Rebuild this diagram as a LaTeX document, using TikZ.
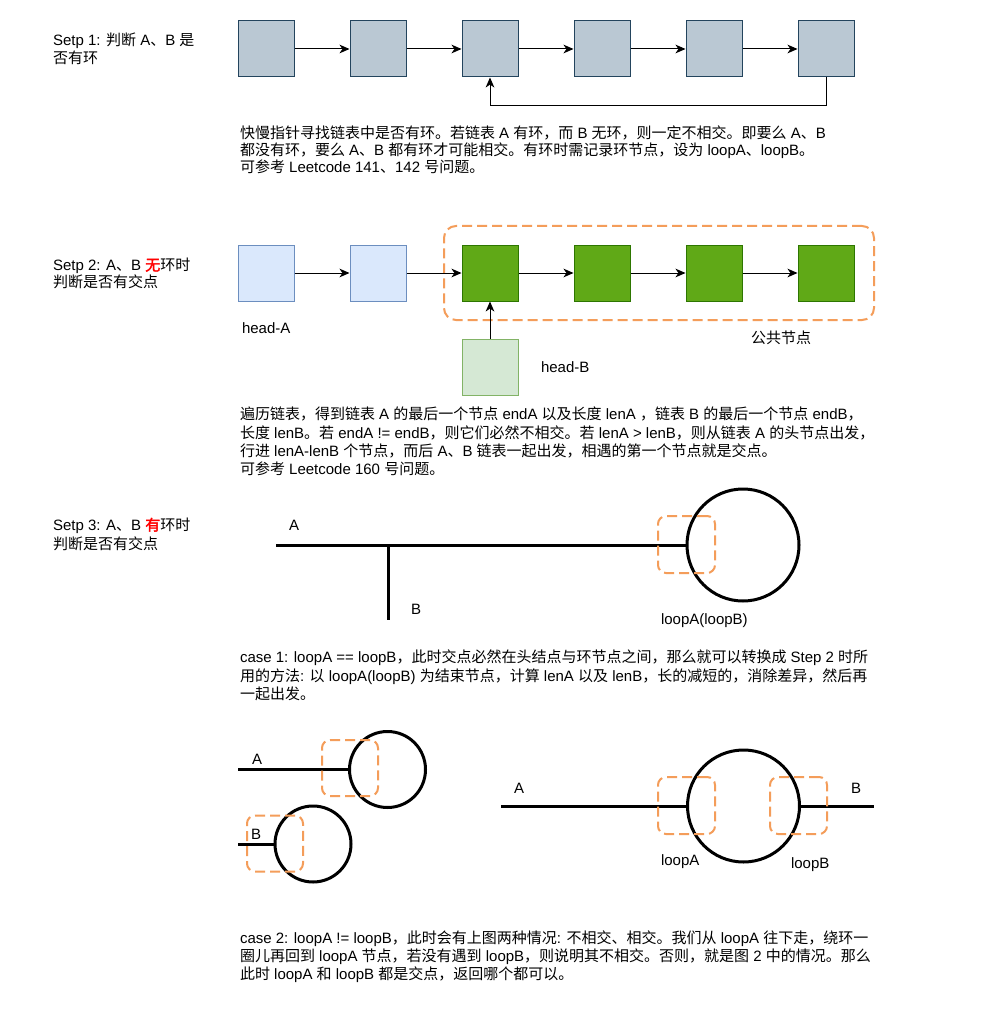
\documentclass[tikz,border=0pt]{standalone}
\usepackage{fontspec}
\setmainfont{Liberation Sans}
\newfontfamily\zhfont{Noto Sans CJK SC}
\newfontfamily\zhboldfont{Noto Sans CJK SC}[FakeBold=2.5]
\newcommand\zh[1]{{\zhfont #1}}
\newcommand\zhb[1]{{\zhboldfont #1}}
\usetikzlibrary{arrows.meta}
\definecolor{grayF}{HTML}{BAC8D3}
\definecolor{grayS}{HTML}{23445D}
\definecolor{blueF}{HTML}{DAE8FC}
\definecolor{blueS}{HTML}{6C8EBF}
\definecolor{greenF}{HTML}{60A917}
\definecolor{greenS}{HTML}{2D7600}
\definecolor{lgreenF}{HTML}{D5E8D4}
\definecolor{lgreenS}{HTML}{82B366}
\definecolor{orangeD}{RGB}{244,157,90}
\tikzset{
  txt/.style={anchor=base west, inner sep=0pt, outer sep=0pt},
  sq/.style={minimum size=42pt, inner sep=0pt, line width=0.75pt},
  graybox/.style={sq, draw=grayS, fill=grayF},
  bluebox/.style={sq, draw=blueS, fill=blueF},
  greenbox/.style={sq, draw=greenS, fill=greenF},
  lgreenbox/.style={sq, draw=lgreenS, fill=lgreenF},
  arr/.style={line width=0.75pt, -{Stealth[length=7.5pt,width=6.5pt,inset=2.2pt]}},
  dashbox/.style={draw=orangeD, line width=1.5pt, dash pattern=on 7.5pt off 3.75pt, rounded corners=6pt, inner sep=0pt},
  ring/.style={circle, draw=black, line width=2.25pt, inner sep=0pt},
  thickline/.style={line width=2.25pt},
}
\begin{document}
\begin{tikzpicture}[x=0.75pt, y=-0.75pt, font=\fontsize{11.25pt}{13.5pt}\selectfont]
\useasboundingbox (0,0) rectangle (1000,1009);
\fill[white] (0,0) rectangle (1000,1009);

% ---------- Step 1 ----------
\node[txt] (s1a) at (53,46) {Setp 1: \zh{判断} A\zh{、}B \zh{是}};
\node[txt] (s1b) at (53,63.5) {\zh{否有环}};

\node[graybox] (g1) at (266,49) {};
\node[graybox] (g2) at (378,49) {};
\node[graybox] (g3) at (490,49) {};
\node[graybox] (g4) at (602,49) {};
\node[graybox] (g5) at (714,49) {};
\node[graybox] (g6) at (826,49) {};
\draw[arr] (g1) -- (g2);
\draw[arr] (g2) -- (g3);
\draw[arr] (g3) -- (g4);
\draw[arr] (g4) -- (g5);
\draw[arr] (g5) -- (g6);
\draw[arr] (g6.south) -- ++(0,28) -| (g3.south);

\node[txt] (t1a) at (240,138.5) {\zh{快慢指针寻找链表中是否有环。若链表} A \zh{有环，而} B \zh{无环，则一定不相交。即要么} A\zh{、}B};
\node[txt] (t1b) at (240,155.5) {\zh{都没有环，要么} A\zh{、}B \zh{都有环才可能相交。有环时需记录环节点，设为} loopA\zh{、}loopB\zh{。}};
\node[txt] (t1c) at (240,172.5) {\zh{可参考} Leetcode 141\zh{、}142 \zh{号问题。}};

% ---------- Step 2 ----------
\node[txt] (s2a) at (53,270.5) {Setp 2: A\zh{、}B {\color{red}\zhb{无}}\zh{环时}};
\node[txt] (s2b) at (53,287.5) {\zh{判断是否有交点}};

\node[dashbox, minimum width=322.5pt, minimum height=70.5pt, rounded corners=9pt] (common) at (659,273) {};
\node[bluebox] (b1) at (266,273) {};
\node[bluebox] (b2) at (378,273) {};
\node[greenbox] (n1) at (490,273) {};
\node[greenbox] (n2) at (602,273) {};
\node[greenbox] (n3) at (714,273) {};
\node[greenbox] (n4) at (826,273) {};
\node[lgreenbox] (hb) at (490,367) {};
\draw[arr] (b1) -- (b2);
\draw[arr] (b2) -- (n1);
\draw[arr] (n1) -- (n2);
\draw[arr] (n2) -- (n3);
\draw[arr] (n3) -- (n4);
\draw[arr] (hb) -- (n1);

\node[txt] (lha) at (242,333) {head-A};
\node[txt] (lhb) at (541,372) {head-B};
\node[txt] (lcom) at (751,343.5) {\zh{公共节点}};

\node[txt] (t2a) at (240,419.5) {\zh{遍历链表，得到链表} A \zh{的最后一个节点} endA \zh{以及长度} lenA \zh{，链表} B \zh{的最后一个节点} endB\zh{，}};
\node[txt] (t2b) at (240,438) {\zh{长度} lenB\zh{。若} endA != endB\zh{，则它们必然不相交。若} lenA > lenB\zh{，则从链表} A \zh{的头节点出发，}};
\node[txt] (t2c) at (240,456.5) {\zh{行进} lenA-lenB \zh{个节点，而后} A\zh{、}B \zh{链表一起出发，相遇的第一个节点就是交点。}};
\node[txt] (t2d) at (240,474.5) {\zh{可参考} Leetcode 160 \zh{号问题。}};

% ---------- Step 3 ----------
\node[txt] (s3a) at (53,530.5) {Setp 3: A\zh{、}B {\color{red}\zhb{有}}\zh{环时}};
\node[txt] (s3b) at (53,549.5) {\zh{判断是否有交点}};

\node[ring, minimum size=84pt] (c1) at (743,545) {};
\coordinate (a1) at (276,545);
\coordinate (j1) at (388,545);
\coordinate (e1) at (388,620);
\draw[thickline] (a1) -- (c1.west);
\draw[thickline] (j1) -- (e1);
\node[dashbox, minimum size=42.75pt] (d1) at (686.5,544.5) {};
\node[txt] (la1) at (289,530) {A};
\node[txt] (lb1) at (411,614) {B};
\node[txt] (ll1) at (661,624) {loopA(loopB)};

\node[txt] (c1a) at (240,662.5) {case 1: loopA == loopB\zh{，此时交点必然在头结点与环节点之间，那么就可以转换成} Step 2 \zh{时所}};
\node[txt] (c1b) at (240,681) {\zh{用的方法}: \zh{以} loopA(loopB) \zh{为结束节点，计算} lenA \zh{以及} lenB\zh{，长的减短的，消除差异，然后再}};
\node[txt] (c1c) at (240,699.5) {\zh{一起出发。}};

% case 2 left
\node[ring, minimum size=57pt] (cA) at (387.5,769.5) {};
\node[ring, minimum size=57pt] (cB) at (313,844) {};
\coordinate (aA) at (238,769.5);
\coordinate (aB) at (238,844);
\draw[thickline] (aA) -- (cA.west);
\draw[thickline] (aB) -- (cB.west);
\node[dashbox, minimum size=42pt] (dA) at (350,768) {};
\node[dashbox, minimum size=42pt] (dB) at (275,843.5) {};
\node[txt] (lA2) at (252,764) {A};
\node[txt] (lB2) at (251,839) {B};

% case 2 right
\node[ring, minimum size=84pt] (cR) at (743.5,806) {};
\coordinate (rA) at (501,806);
\coordinate (rB) at (874,806);
\draw[thickline] (rA) -- (cR.west);
\draw[thickline] (cR.east) -- (rB);
\node[dashbox, minimum size=42.75pt] (dR1) at (686.5,805.5) {};
\node[dashbox, minimum size=42.75pt] (dR2) at (798.5,805.5) {};
\node[txt] (lA3) at (514,793) {A};
\node[txt] (lB3) at (851,793) {B};
\node[txt] (lLA) at (661,865) {loopA};
\node[txt] (lLB) at (791,868) {loopB};

\node[txt] (c2a) at (240,943.5) {case 2: loopA != loopB\zh{，此时会有上图两种情况}: \zh{不相交、相交。我们从} loopA \zh{往下走，绕环一}};
\node[txt] (c2b) at (240,961.5) {\zh{圈儿再回到} loopA \zh{节点，若没有遇到} loopB\zh{，则说明其不相交。否则，就是图} 2 \zh{中的情况。那么}};
\node[txt] (c2c) at (240,979.5) {\zh{此时} loopA \zh{和} loopB \zh{都是交点，返回哪个都可以。}};
\end{tikzpicture}
\end{document}
